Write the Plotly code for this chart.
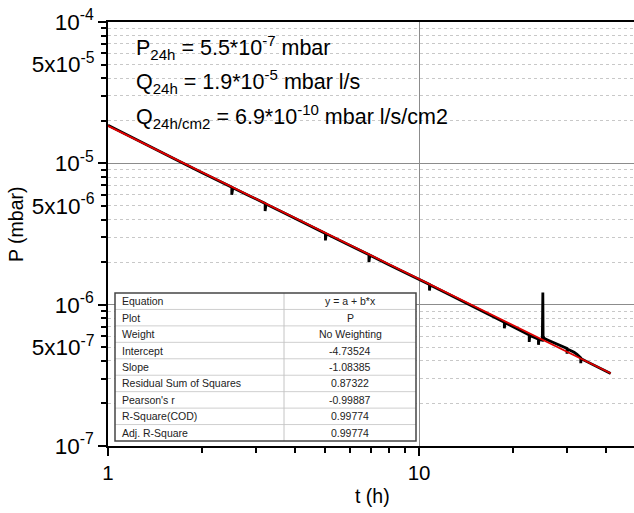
import plotly.graph_objects as go

# ---------------- data ----------------
t_meas = [1.0, 1.3, 1.7, 2.0, 2.3, 2.5, 2.5, 2.52, 2.8, 3.2, 3.2, 3.22, 3.7, 4.3,
          5.0, 5.0, 5.03, 5.8, 6.9, 6.9, 6.95, 8.0, 9.2, 10.8, 10.8, 10.85, 12.5,
          14.5, 16.5, 18.8, 18.8, 18.9, 20.5, 22.6, 22.6, 22.7, 23.5, 24.2, 24.2,
          24.3, 24.9, 25.0, 25.05, 25.3, 26.0, 27.0, 27.8, 28.8, 29.9, 29.9, 30.0,
          31.5, 32.2, 33.1, 33.1, 33.2, 34.5, 36.0, 38.0, 40.0, 41.3]
p_meas = [1.86e-5, 1.38e-5, 1.03e-5, 8.6e-6, 7.4e-6, 6.78e-6, 6.0e-6, 6.72e-6, 6.0e-6,
          5.2e-6, 4.6e-6, 5.15e-6, 4.43e-6, 3.76e-6, 3.19e-6, 2.85e-6, 3.17e-6,
          2.72e-6, 2.26e-6, 2.0e-6, 2.24e-6, 1.92e-6, 1.65e-6, 1.39e-6, 1.26e-6,
          1.38e-6, 1.18e-6, 1.0e-6, 8.7e-7, 7.5e-7, 6.8e-7, 7.45e-7, 6.8e-7, 6.1e-7,
          5.45e-7, 6.05e-7, 5.85e-7, 5.7e-7, 5.2e-7, 5.68e-7, 5.6e-7, 1.22e-6,
          6.0e-7, 5.75e-7, 5.6e-7, 5.4e-7, 5.25e-7, 5.1e-7, 4.9e-7, 4.5e-7, 4.85e-7,
          4.6e-7, 4.45e-7, 4.2e-7, 3.85e-7, 4.15e-7, 3.97e-7, 3.78e-7, 3.56e-7, 3.38e-7,
          3.26e-7]

t_fit = [1.0, 41.3]
p_fit = [1.84e-5, 3.27e-7]

y_major = [1e-7, 1e-6, 1e-5, 1e-4]
y_major_text = ["10<sup>-7</sup>", "10<sup>-6</sup>", "10<sup>-5</sup>", "10<sup>-4</sup>"]
y_half = [5e-7, 5e-6, 5e-5]
y_half_text = ["5x10<sup>-7</sup>", "5x10<sup>-6</sup>", "5x10<sup>-5</sup>"]
y_minor = [m * 10.0 ** e for e in (-7, -6, -5) for m in range(2, 10)]

x_major = [1, 10]
x_major_text = ["1", "10"]
x_minor = [2, 3, 4, 5, 6, 7, 8, 9, 20, 30, 40]

table_names = ["Equation", "Plot", "Weight", "Intercept", "Slope",
               "Residual Sum of Squares", "Pearson's r", "R-Square(COD)", "Adj. R-Square"]
table_vals = ["y = a + b*x", "P", "No Weighting", "-4.73524", "-1.08385", "0.87322",
              "-0.99887", "0.99774", "0.99774"]

FONT = "Arial, Liberation Sans, sans-serif"

# plot area in pixels (for layout placement only)
L, R, T, B = 108, 634, 22, 446
PW, PH = R - L, B - T


def px(x):
    return (x - L) / PW


def py(y):
    return (B - y) / PH


fig = go.Figure()
fig.add_trace(go.Scatter(x=t_meas, y=p_meas, mode="lines",
                         line=dict(color="black", width=2.8), showlegend=False))
fig.add_trace(go.Scatter(x=t_fit, y=p_fit, mode="lines",
                         line=dict(color="#e00000", width=1.8), showlegend=False))
# overlay axis for 5x10^n labels
fig.add_trace(go.Scatter(x=[1], y=[1e-5], yaxis="y2", mode="markers",
                         marker=dict(opacity=0), showlegend=False, hoverinfo="skip"))

# ---- fit-results table (text + rules) ----
tx0, tx1, tsplit, ty0, ty1 = 115, 416, 284, 293, 441
nrows = len(table_names)
rh = (ty1 - ty0) / nrows
shapes = [dict(type="rect", xref="paper", yref="paper", x0=px(tx0), x1=px(tx1),
               y0=py(ty1), y1=py(ty0), fillcolor="white", line=dict(width=0),
               layer="above")]
for i in range(1, nrows):
    yy = py(ty0 + i * rh)
    shapes.append(dict(type="line", xref="paper", yref="paper", x0=px(tx0), x1=px(tx1),
                       y0=yy, y1=yy, line=dict(color="#cfcfcf", width=1), layer="above"))
shapes.append(dict(type="line", xref="paper", yref="paper", x0=px(tsplit), x1=px(tsplit),
                   y0=py(ty1), y1=py(ty0), line=dict(color="#c4c4c4", width=1),
                   layer="above"))
shapes.append(dict(type="rect", xref="paper", yref="paper", x0=px(tx0), x1=px(tx1),
                   y0=py(ty1), y1=py(ty0), line=dict(color="#454545", width=1.5),
                   layer="above"))

annotations = []
for i, (nm, vl) in enumerate(zip(table_names, table_vals)):
    yc = py(ty0 + (i + 0.5) * rh)
    annotations.append(dict(text=nm, xref="paper", yref="paper", x=px(tx0 + 5), y=yc,
                            xanchor="left", yanchor="middle", showarrow=False,
                            font=dict(size=10.5, color="#222")))
    annotations.append(dict(text=vl, xref="paper", yref="paper", x=px((tsplit + tx1) / 2),
                            y=yc, xanchor="center", yanchor="middle", showarrow=False,
                            font=dict(size=10.5, color="#222")))

annotations += [
    dict(text="P<sub>24h</sub> = 5.5*10<sup>-7</sup> mbar", xref="paper", yref="paper",
         x=px(134), y=py(47), xanchor="left", yanchor="middle",
         showarrow=False, font=dict(size=21.5)),
    dict(text="Q<sub>24h</sub> = 1.9*10<sup>-5</sup> mbar l/s", xref="paper", yref="paper",
         x=px(134), y=py(82), xanchor="left", yanchor="middle",
         showarrow=False, font=dict(size=21.5)),
    dict(text="Q<sub>24h/cm2</sub> = 6.9*10<sup>-10</sup> mbar l/s/cm2", xref="paper",
         yref="paper", x=px(134), y=py(116), xanchor="left",
         yanchor="middle", showarrow=False, font=dict(size=21.5)),
    dict(text="P (mbar)", xref="paper", yref="paper", x=px(16), y=py(224),
         xanchor="center", yanchor="middle", textangle=-90, showarrow=False,
         font=dict(size=19.5)),
    dict(text="t (h)", xref="paper", yref="paper", x=px(372), y=py(496),
         xanchor="center", yanchor="middle", showarrow=False, font=dict(size=19.5)),
]

fig.update_layout(
    width=634, height=513,
    margin=dict(l=L, r=634 - R, t=T, b=513 - B, autoexpand=False),
    paper_bgcolor="white", plot_bgcolor="white",
    font=dict(family=FONT, size=20, color="black"),
    xaxis=dict(
        type="log", range=[0, 1.691], automargin=False,
        tickmode="array", tickvals=x_major, ticktext=x_major_text,
        ticks="outside", ticklen=8, tickwidth=1.5, tickcolor="black",
        showline=True, linecolor="black", linewidth=1.5, mirror=True,
        showgrid=True, gridcolor="#8c8c8c", gridwidth=1,
        zeroline=False,
        tickfont=dict(size=20.5),
        minor=dict(tickmode="array", tickvals=x_minor, ticks="outside", ticklen=5,
                   tickwidth=1.5, tickcolor="black", showgrid=False),
    ),
    yaxis=dict(
        type="log", range=[-7, -4], automargin=False,
        tickmode="array", tickvals=y_major, ticktext=y_major_text,
        ticks="outside", ticklen=8, tickwidth=1.5, tickcolor="black",
        showline=True, linecolor="black", linewidth=1.5, mirror=False,
        showgrid=True, gridcolor="#8c8c8c", gridwidth=1,
        zeroline=False,
        tickfont=dict(size=22.5),
        minor=dict(tickmode="array", tickvals=y_minor, ticks="outside", ticklen=5,
                   tickwidth=1.5, tickcolor="black", showgrid=True,
                   gridcolor="#c8c8c8", griddash="dot", gridwidth=1),
    ),
    yaxis2=dict(
        type="log", range=[-7, -4], overlaying="y", side="left", automargin=False,
        tickmode="array", tickvals=y_half, ticktext=y_half_text,
        ticks="outside", ticklen=8, tickcolor="rgba(0,0,0,0)",
        showline=False, showgrid=False, zeroline=False,
        tickfont=dict(size=22.5),
    ),
    shapes=shapes,
    annotations=annotations,
)

fig.write_html("out.html", config={"displayModeBar": False},
               post_script="document.body.style.margin='0px';")
